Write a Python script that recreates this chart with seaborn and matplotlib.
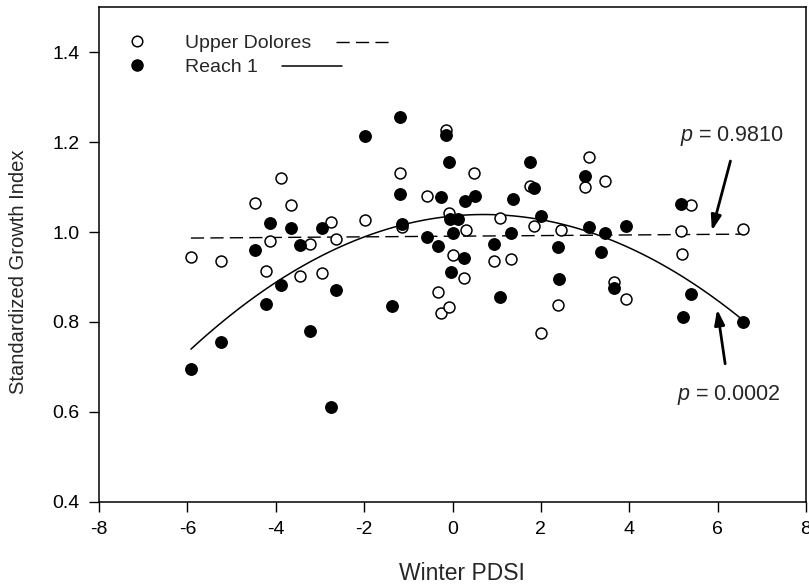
import matplotlib
matplotlib.use("Agg")
import matplotlib.pyplot as plt
import seaborn as sns
import pandas as pd
from matplotlib.lines import Line2D

# ---- data ----
ud_pdsi = [-5.92, -5.24, -4.47, -4.23, -4.12, -3.88, -3.66, -3.45, -3.22, -2.95,
           -2.75, -2.63, -1.98, -1.18, -1.14, -0.57, -0.33, -0.26, -0.14, -0.09,
           -0.07, 0.00, 0.25, 0.30, 0.48, 0.94, 1.08, 1.32, 1.75, 1.84,
           2.01, 2.39, 2.45, 2.99, 3.10, 3.46, 3.65, 3.93, 5.17, 5.20,
           5.40, 6.57]
ud_sgi = [0.944, 0.935, 1.064, 0.913, 0.979, 1.120, 1.061, 0.903, 0.973, 0.910,
          1.022, 0.984, 1.027, 1.132, 1.012, 1.081, 0.867, 0.820, 1.228, 1.043,
          0.833, 0.950, 0.897, 1.005, 1.131, 0.935, 1.031, 0.940, 1.103, 1.014,
          0.776, 0.837, 1.004, 1.100, 1.166, 1.113, 0.888, 0.850, 1.002, 0.952,
          1.061, 1.007]

r1_pdsi = [-5.92, -5.24, -4.47, -4.23, -4.12, -3.88, -3.66, -3.45, -3.22, -2.95,
           -2.75, -2.63, -1.98, -1.38, -1.18, -1.18, -1.14, -0.57, -0.32, -0.26,
           -0.14, -0.09, -0.06, -0.04, 0.00, 0.12, 0.25, 0.29, 0.50, 0.94,
           1.08, 1.32, 1.37, 1.76, 1.84, 2.01, 2.39, 2.40, 2.99, 3.10,
           3.37, 3.46, 3.65, 3.93, 5.17, 5.21, 5.40, 6.57]
r1_sgi = [0.696, 0.756, 0.961, 0.840, 1.020, 0.882, 1.008, 0.972, 0.780, 1.010,
          0.610, 0.870, 1.213, 0.835, 1.256, 1.084, 1.019, 0.989, 0.969, 1.078,
          1.215, 1.156, 1.028, 0.911, 0.999, 1.028, 0.942, 1.069, 1.081, 0.973,
          0.855, 0.999, 1.073, 1.155, 1.098, 1.035, 0.967, 0.895, 1.125, 1.012,
          0.955, 0.998, 0.875, 1.014, 1.063, 0.810, 0.862, 0.799]

series_labels = ["Upper Dolores", "Reach 1"]
p_labels = ["0.9810", "0.0002"]
x_ticks = [-8, -6, -4, -2, 0, 2, 4, 6, 8]
y_ticks = [0.4, 0.6, 0.8, 1.0, 1.2, 1.4]

ud = pd.DataFrame({"pdsi": ud_pdsi, "sgi": ud_sgi})
r1 = pd.DataFrame({"pdsi": r1_pdsi, "sgi": r1_sgi})

# ---- style ----
sns.set_style("ticks")
plt.rcParams["font.family"] = ["Liberation Sans", "DejaVu Sans"]
plt.rcParams["mathtext.fontset"] = "custom"
plt.rcParams["mathtext.rm"] = "Liberation Sans"
plt.rcParams["mathtext.it"] = "Liberation Sans:italic"

fig = plt.figure(figsize=(8.09, 5.86), dpi=100)
ax = fig.add_axes([0.1224, 0.1438, 0.8739, 0.8437])

# fit lines
sns.regplot(data=ud, x="pdsi", y="sgi", order=1, ci=None, scatter=False, ax=ax,
            line_kws=dict(color="black", lw=1.0, dashes=(9.5, 4.5)))
sns.regplot(data=r1, x="pdsi", y="sgi", order=2, ci=None, scatter=False, ax=ax,
            line_kws=dict(color="black", lw=1.1))

# points
sns.scatterplot(data=ud, x="pdsi", y="sgi", ax=ax, marker="o", s=62,
                facecolor="white", edgecolor="black", linewidth=1.1, zorder=3)
sns.scatterplot(data=r1, x="pdsi", y="sgi", ax=ax, marker="o", s=68,
                facecolor="black", edgecolor="black", linewidth=1.0, zorder=3)

ax.set_xlim(-8, 8)
ax.set_ylim(0.4, 1.5)
ax.set_xticks(x_ticks)
ax.set_xticklabels([str(t) for t in x_ticks])
ax.set_yticks(y_ticks)
ax.set_yticklabels([f"{t:.1f}" for t in y_ticks])
ax.tick_params(direction="out", length=7, width=1.0, pad=7, labelsize=14,
               colors="black")
for sp in ax.spines.values():
    sp.set_linewidth(1.1)
    sp.set_color("black")
ax.set_xlabel("Winter PDSI", fontsize=16.5)
ax.set_ylabel("Standardized Growth Index", fontsize=14.5)
ax.xaxis.set_label_coords(0.513, -0.122)
ax.yaxis.set_label_coords(-0.100, 0.465)

# legend: marker + text, with line samples after text
handles = [Line2D([], [], marker="o", ls="none", markersize=7.6,
                  markerfacecolor="white", markeredgecolor="black", markeredgewidth=1.1),
           Line2D([], [], marker="o", ls="none", markersize=8.0,
                  markerfacecolor="black", markeredgecolor="black")]
leg = ax.legend(handles, series_labels, loc="upper left",
                bbox_to_anchor=(0.040, 0.945), frameon=False, fontsize=14,
                handlelength=1.0, handletextpad=1.95, labelspacing=0.33,
                borderpad=0, borderaxespad=0)
ax.plot([0.335, 0.414], [0.929, 0.929], transform=ax.transAxes, color="black",
        lw=1.0, dashes=(9.5, 4.5))
ax.plot([0.259, 0.344], [0.881, 0.881], transform=ax.transAxes, color="black",
        lw=1.1)

# p-value annotations
ax.annotate("", xy=(5.87, 1.003), xytext=(6.29, 1.158),
            arrowprops=dict(arrowstyle="-|>,head_length=0.9,head_width=0.3",
                            color="black", lw=2.0, shrinkA=0, shrinkB=0))
ax.annotate("", xy=(5.99, 0.828), xytext=(6.17, 0.707),
            arrowprops=dict(arrowstyle="-|>,head_length=0.9,head_width=0.3",
                            color="black", lw=2.0, shrinkA=0, shrinkB=0))
ax.text(5.15, 1.213, r"$p$ = " + p_labels[0], fontsize=15.5, va="center", ha="left")
ax.text(5.08, 0.638, r"$p$ = " + p_labels[1], fontsize=15.5, va="center", ha="left")

fig.savefig("out.png", dpi=100)
